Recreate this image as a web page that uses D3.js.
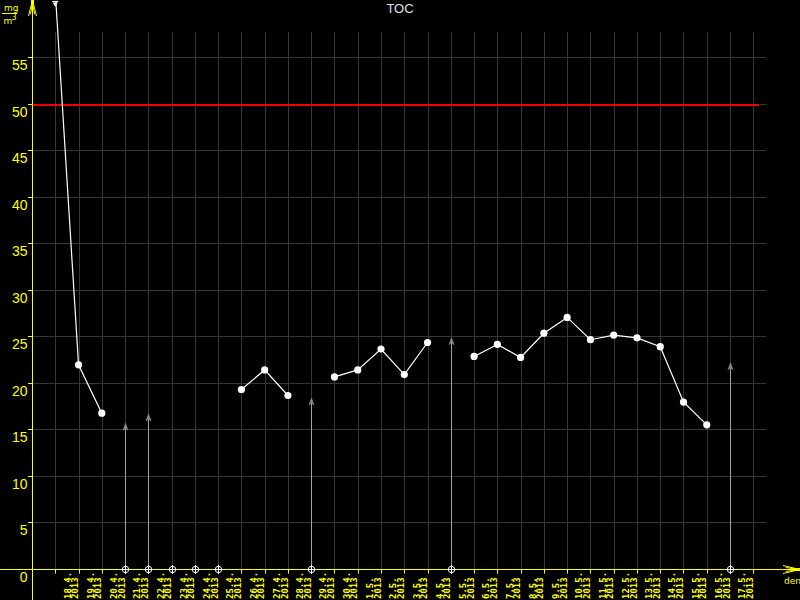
<!DOCTYPE html>
<html><head><meta charset="utf-8">
<script src="https://cdn.jsdelivr.net/npm/d3@7"></script>
<style>html,body{margin:0;padding:0;background:#000;}svg{display:block;}</style>
</head><body>
<script>
// ---- data ----
const title = "TOC";
const unitTop = "mg", unitBottom = "m", unitSup = "3";
const xUnit = "den";
const year = "2013";
const dayLabels = ["18.4.","19.4.","20.4.","21.4.","22.4.","23.4.","24.4.","25.4.","26.4.","27.4.","28.4.","29.4.","30.4.",
  "1.5.","2.5.","3.5.","4.5.","5.5.","6.5.","7.5.","8.5.","9.5.","10.5.","11.5.","12.5.","13.5.","14.5.","15.5.","16.5.","17.5."];
// value at each tick slot (slot 0 .. 30); null = no measured value
const tocValues = [62, 21.9, 16.7, null, null, null, null, null, 19.25, 21.35, 18.6, null, 20.6, 21.35, 23.6, 20.85, 24.3, null,
  22.8, 24.1, 22.7, 25.3, 27.0, 24.6, 25.1, 24.8, 23.85, 17.9, 15.45, null, null];
// slots with zero/undetermined marker on the axis
const zeroSlots = [3, 4, 5, 6, 7, 11, 17, 29];
// grey arrows: slot and value
const arrowSlots = [3, 4, 11, 17, 29];
const arrowValues = [15.3, 16.3, 18.0, 24.5, 21.8];
const limitValue = 50;
const yTicks = [0, 5, 10, 15, 20, 25, 30, 35, 40, 45, 50, 55];

// ---- layout ----
const W = 800, H = 600;
const svg = d3.select("body").append("svg").attr("width", W).attr("height", H).style("background", "#000");
const x = d3.scaleLinear().domain([-1, 30]).range([32, 753.3]);
const y = d3.scaleLinear().domain([0, 50]).range([568.5, 103.5]);
const cx = v => Math.round(x(v)) + 0.5;
const cy = v => Math.round(y(v)) + 0.5;
const YEL = "#ffff00", GRID = "#363636";
const slots = d3.range(0, 31);

// grid
const g = svg.append("g");
g.selectAll(".vg").data(slots).join("line")
  .attr("x1", d => cx(d)).attr("x2", d => cx(d)).attr("y1", 32).attr("y2", cy(0))
  .attr("stroke", GRID).attr("stroke-width", 1);
g.selectAll(".hg").data(yTicks.filter(d => d > 0)).join("line")
  .attr("x1", 32).attr("x2", 766.5).attr("y1", d => cy(d)).attr("y2", d => cy(d))
  .attr("stroke", GRID).attr("stroke-width", 1);

// limit line
svg.append("line").attr("x1", 32).attr("x2", 759).attr("y1", Math.round(y(limitValue)) + 1).attr("y2", Math.round(y(limitValue)) + 1)
  .attr("stroke", "#ee0000").attr("stroke-width", 2);

// grey arrows
const ag = svg.append("g");
arrowSlots.forEach((s, i) => {
  const xx = cx(s), yy = y(arrowValues[i]);
  ag.append("line").attr("x1", xx).attr("x2", xx).attr("y1", cy(0)).attr("y2", yy)
    .attr("stroke", "#a0a0a0").attr("stroke-width", 1);
  ag.append("path").attr("d", `M${xx},${yy - 3} L${xx + 2.5},${yy + 4} L${xx},${yy + 2} L${xx - 2.5},${yy + 4} Z`)
    .attr("fill", "#8a8a8a").attr("stroke", "#8a8a8a").attr("stroke-width", 0.6);
});

// data line (with gaps)
const line = d3.line().defined(d => d.v != null).x(d => x(d.s)).y(d => y(d.v));
const pts = tocValues.map((v, s) => ({ s, v }));
svg.append("path").datum(pts).attr("d", line).attr("fill", "none").attr("stroke", "#fff").attr("stroke-width", 1.2);
svg.selectAll(".pt").data(pts.filter(d => d.v != null && d.v <= 57)).join("circle")
  .attr("cx", d => x(d.s)).attr("cy", d => y(d.v)).attr("r", 3.6).attr("fill", "#fff");

// off-scale marker at top
pts.filter(d => d.v != null && d.v > 57).forEach(d => {
  const xx = x(d.s);
  svg.append("rect").attr("x", xx - 3).attr("y", 0).attr("width", 6).attr("height", 2).attr("fill", "#000");
  svg.append("line").attr("x1", xx - 3).attr("x2", xx + 3).attr("y1", 1.5).attr("y2", 1.5).attr("stroke", "#fff").attr("stroke-width", 1.2);
  svg.append("path").attr("d", `M${xx - 2.5},${2.5} L${xx + 2.5},${2.5} L${xx},${7} Z`).attr("fill", "#fff");
});

// axes
const ax = svg.append("g");
ax.append("line").attr("x1", 32.5).attr("x2", 32.5).attr("y1", 0).attr("y2", 600).attr("stroke", YEL);
ax.append("line").attr("x1", 0).attr("x2", 796).attr("y1", cy(0)).attr("y2", cy(0)).attr("stroke", YEL);
// y arrow
ax.append("path").attr("d", "M32.5,0 L28.5,16 M32.5,0 L36.5,16 M32.5,2 L30.5,14 M32.5,2 L34.5,14").attr("stroke", YEL).attr("fill", "none");
ax.append("rect").attr("x", 31).attr("y", 0).attr("width", 3).attr("height", 5).attr("fill", YEL);
// x arrow
const a0 = cy(0);
ax.append("path").attr("d", `M800,${a0} L783,${a0 - 4} M800,${a0} L783,${a0 + 4} M798,${a0} L786,${a0 - 2} M798,${a0} L786,${a0 + 2}`).attr("stroke", YEL).attr("fill", "none");
ax.append("rect").attr("x", 793).attr("y", a0 - 1.5).attr("width", 7).attr("height", 3).attr("fill", YEL);

// x ticks
ax.selectAll(".xt").data(slots).join("line")
  .attr("x1", d => cx(d)).attr("x2", d => cx(d)).attr("y1", cy(0)).attr("y2", cy(0) + 4).attr("stroke", YEL);
// y ticks
ax.selectAll(".yt").data(yTicks.filter(d => d > 0)).join("line")
  .attr("x1", 28).attr("x2", 32).attr("y1", d => cy(d)).attr("y2", d => cy(d)).attr("stroke", YEL);
// y labels
ax.selectAll(".yl").data(yTicks).join("text")
  .attr("x", 27.5).attr("y", d => Math.round(y(d)) + 13)
  .attr("text-anchor", "end").attr("fill", YEL)
  .style("font-family", "'Liberation Sans', Arial, sans-serif").style("font-size", "14px")
  .text(d => d);

// x labels (rotated, two lines)
const xl = ax.selectAll(".xl").data(dayLabels).join("text")
  .attr("transform", (d, i) => `translate(${x(i + 1) - 8},599) rotate(-90)`)
  .attr("fill", YEL)
  .style("font-family", "'DejaVu Sans Mono', monospace").style("font-size", "9px").style("font-weight", "bold");
xl.append("tspan").attr("x", 0).attr("y", 0).text(d => d);
xl.append("tspan").attr("x", 0).attr("y", 7.6).text(year);

// zero markers
const zg = svg.append("g");
zeroSlots.forEach(s => {
  const xx = cx(s), yy = cy(0);
  zg.append("circle").attr("cx", xx).attr("cy", yy).attr("r", 3.2).attr("fill", "#000").attr("stroke", "#fff").attr("stroke-width", 1);
  zg.append("path").attr("d", `M${xx - 4.5},${yy} L${xx + 4.5},${yy} M${xx},${yy - 4.5} L${xx},${yy + 4.5}`).attr("stroke", "#fff").attr("stroke-width", 1);
});

// title
svg.append("text").attr("x", 400).attr("y", 13).attr("text-anchor", "middle").attr("fill", "#e0e0e0")
  .style("font-family", "'Liberation Sans', Arial, sans-serif").style("font-size", "13px").text(title);

// unit label
const ul = svg.append("g").attr("fill", YEL).style("font-family", "'DejaVu Sans', sans-serif").style("font-size", "9px");
ul.append("text").attr("x", 4).attr("y", 11).text(unitTop);
ul.append("line").attr("x1", 2).attr("x2", 17).attr("y1", 13.5).attr("y2", 13.5).attr("stroke", YEL);
ul.append("text").attr("x", 3.5).attr("y", 23.5).text(unitBottom);
ul.append("text").attr("x", 11.5).attr("y", 20).style("font-size", "8px").text(unitSup);

// x unit
svg.append("text").attr("x", 784).attr("y", 584).attr("fill", YEL)
  .style("font-family", "'DejaVu Sans', sans-serif").style("font-size", "9px").text(xUnit);
</script>
</body></html>
